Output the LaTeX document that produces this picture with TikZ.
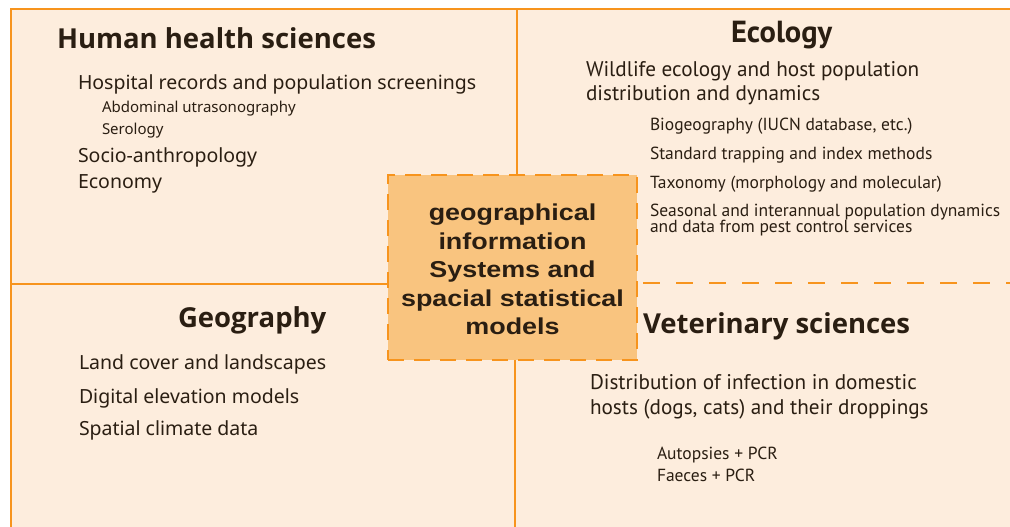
\documentclass[tikz,border=0pt]{standalone}
\usepackage{fontspec}
\usetikzlibrary{calc}
\setmainfont{Noto Sans}
\newfontfamily\headf{Open Sans}
\newfontfamily\myr{PT Sans}
\newfontfamily\arialf[FakeStretch=1.17]{Liberation Sans}
\definecolor{peach}{HTML}{FDEDDD}
\definecolor{orng}{HTML}{F7941D}
\definecolor{boxfill}{HTML}{F9C47F}
\definecolor{ink}{HTML}{2A1E12}
\begin{document}
\begin{tikzpicture}[x=1pt,y=-1pt,
  every node/.style={inner sep=0pt, outer sep=0pt, text=ink, anchor=base west},
  heading/.style={font=\headf\fontsize{27.5}{32}\selectfont\bfseries},
  ecohead/.style={font=\myr\fontsize{30.5}{32}\selectfont\bfseries},
  item/.style={font=\fontsize{19.5}{24}\selectfont},
  subitem/.style={font=\fontsize{15}{18}\selectfont},
  ritem/.style={font=\myr\fontsize{21.2}{24.5}\selectfont, align=left},
  rsub/.style={font=\myr\fontsize{17.5}{16}\selectfont, align=left},
  divider/.style={draw=orng, line width=2.5pt},
  dashdiv/.style={draw=orng, line width=2.5pt, dash pattern=on 17pt off 16pt},
  centerbox/.style={draw=orng, fill=boxfill, line width=2.5pt, dash pattern=on 16pt off 10pt,
    minimum width=249pt, minimum height=185pt, anchor=center},
  centertext/.style={anchor=center, align=center,
    font=\arialf\fontsize{23}{28.5}\selectfont\bfseries}
]
\useasboundingbox (0,0) rectangle (1010,527);
\fill[white] (0,0) rectangle (1010,527);
\draw[divider, fill=peach] (11,9) rectangle (1015,535);
% border points
\coordinate (topmid) at (517,9);
\coordinate (botmid) at (515,535);
\coordinate (leftmid) at (11,284);
\coordinate (rightmid) at (1015,283);
% center box
\node[centerbox] (gis) at (512.5,267.5) {};
\node[centertext] (gistext) at (512.5,269.5) {geographical\\information\\Systems and\\spacial statistical\\models};
\draw[divider] (topmid) -- (topmid |- gis.north);
\draw[divider] (botmid) -- (botmid |- gis.south);
\draw[divider] (leftmid) -- (leftmid -| gis.west);
\draw[dashdiv] ($(gis.east |- rightmid)+(6,0)$) -- (rightmid);
% Human health sciences
\node[heading] (hhs) at (57,49) {Human health sciences};
\node[item] (hosp) at (78,90) {Hospital records and population screenings};
\node[subitem] (abd) at (102,113) {Abdominal utrasonography};
\node[subitem] (sero) at (102,135) {Serology};
\node[item] (socio) at (78,162) {Socio-anthropology};
\node[item] (econ) at (78,188) {Economy};
% Ecology
\node[ecohead] (eco) at (731,43) {Ecology};
\node[ritem] (wild) at (586,101) {Wildlife ecology and host population\\distribution and dynamics};
\node[rsub] (bio) at (650,131) {Biogeography (IUCN database, etc.)};
\node[rsub] (trap) at (650,159) {Standard trapping and index methods};
\node[rsub] (taxo) at (650,188) {Taxonomy (morphology and molecular)};
\node[rsub] (seas) at (650,232) {Seasonal and interannual population dynamics\\and data from pest control services};
% Veterinary
\node[heading] (vet) at (643,333) {Veterinary sciences};
\node[ritem, font=\myr\fontsize{21.2}{25}\selectfont] (dist) at (590,414) {Distribution of infection in domestic\\hosts (dogs, cats) and their droppings};
\node[rsub, font=\myr\fontsize{17.5}{22}\selectfont] (auto) at (657,481) {Autopsies + PCR\\Faeces + PCR};
% Geography
\node[heading] (geo) at (178,327) {Geography};
\node[item] (land) at (79,369) {Land cover and landscapes};
\node[item] (dem) at (79,403) {Digital elevation models};
\node[item] (clim) at (79,435) {Spatial climate data};
\end{tikzpicture}
\end{document}
